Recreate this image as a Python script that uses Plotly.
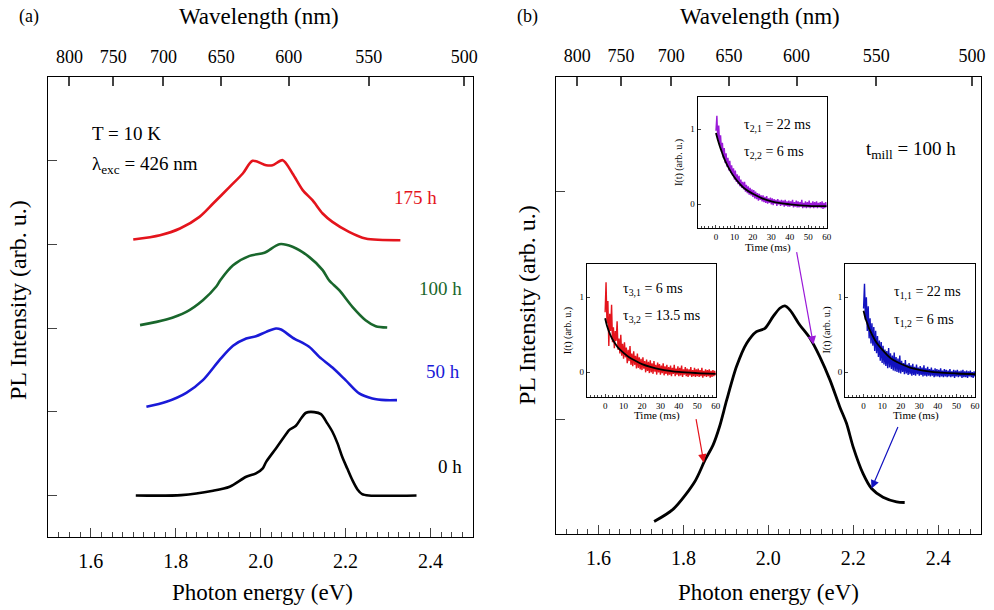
import numpy as np
import plotly.graph_objects as go

W, H = 994, 610
FONT = "Liberation Serif"

# ---------------- Panel (a): PL spectra vs milling time ----------------
E_0h = [1.706, 1.813, 1.888, 1.927, 1.966, 1.989, 2.005, 2.013, 2.036, 2.060, 2.067, 2.083,
        2.095, 2.107, 2.126, 2.142, 2.157, 2.169, 2.181, 2.192, 2.204, 2.216, 2.228, 2.239,
        2.255, 2.367]
I_0h = [0.0, 0.004, 0.056, 0.104, 0.223, 0.263, 0.323, 0.402, 0.562, 0.733, 0.781, 0.833,
        0.920, 0.988, 0.996, 0.972, 0.861, 0.761, 0.622, 0.462, 0.321, 0.183, 0.072, 0.016,
        0.0, 0.0]

E_50h = [1.731, 1.778, 1.825, 1.864, 1.903, 1.935, 1.966, 1.989, 2.013, 2.036, 2.048, 2.075,
         2.114, 2.138, 2.169, 2.200, 2.232, 2.263, 2.294, 2.321]
I_50h = [1.059, 1.119, 1.226, 1.378, 1.617, 1.788, 1.875, 1.903, 1.955, 1.995, 1.983, 1.887,
         1.776, 1.656, 1.529, 1.378, 1.219, 1.159, 1.139, 1.139]

E_100h = [1.716, 1.778, 1.825, 1.864, 1.895, 1.905, 1.935, 1.974, 2.009, 2.044, 2.075, 2.114,
          2.146, 2.161, 2.185, 2.216, 2.247, 2.271, 2.298]
I_100h = [2.035, 2.102, 2.194, 2.333, 2.493, 2.572, 2.751, 2.863, 2.899, 3.002, 2.971, 2.851,
          2.692, 2.572, 2.453, 2.254, 2.094, 2.023, 2.007]

E_175h = [1.700, 1.763, 1.810, 1.856, 1.888, 1.927, 1.958, 1.981, 2.013, 2.028, 2.052, 2.075,
          2.099, 2.122, 2.146, 2.169, 2.208, 2.247, 2.329]
I_175h = [3.058, 3.110, 3.190, 3.329, 3.488, 3.687, 3.847, 3.998, 3.946, 3.946, 4.006, 3.847,
          3.648, 3.528, 3.369, 3.269, 3.150, 3.070, 3.050]

# ---------------- Panel (b): PL spectrum, 100 h ----------------
E_b = [1.731, 1.776, 1.827, 1.851, 1.870, 1.885, 1.902, 1.925, 1.949, 1.972, 1.992, 2.011,
       2.027, 2.039, 2.051, 2.074, 2.098, 2.121, 2.145, 2.168, 2.184, 2.200, 2.223, 2.243,
       2.270, 2.302, 2.321]
I_b = [-0.444, -0.390, -0.269, -0.175, -0.109, -0.030, 0.087, 0.233, 0.335, 0.386, 0.400, 0.451,
       0.488, 0.498, 0.480, 0.415, 0.357, 0.277, 0.175, 0.058, -0.015, -0.120, -0.235, -0.300,
       -0.338, -0.358, -0.361]

# arrow targets on the spectrum (eV): red inset, purple inset, blue inset
arrow_E = [1.848, 2.106, 2.243]

wl_ticks = [800, 750, 700, 650, 600, 550, 500]
time_ticks = [0, 10, 20, 30, 40, 50, 60]

# ---------------- Insets: decay curves, sampled every 0.5 ms ----------------
t_step = 0.5
decay_red = [0.80, 1.20, 0.65, 0.95, 0.35, 0.78, 0.55, 0.90, 0.40, 0.60,
             0.32, 0.55, 0.42, 0.68, 0.30, 0.45, 0.25, 0.50, 0.22, 0.38,
             0.18, 0.40, 0.20, 0.33, 0.12, 0.30, 0.15, 0.35, 0.10, 0.25,
             0.08, 0.28, 0.10, 0.22, 0.05, 0.25, 0.06, 0.20, 0.04, 0.18,
             0.03, 0.20, 0.05, 0.15, 0.00, 0.17, 0.02, 0.14, -0.01, 0.16,
             0.00, 0.12, -0.02, 0.15, 0.01, 0.10, -0.03, 0.13, 0.00, 0.11,
             -0.03, 0.09, -0.01, 0.12, -0.04, 0.08, -0.02, 0.10, -0.04, 0.07,
             -0.03, 0.09, -0.05, 0.06, -0.02, 0.10, -0.05, 0.05, -0.03, 0.08,
             -0.05, 0.06, -0.04, 0.09, -0.06, 0.04, -0.03, 0.07, -0.05, 0.05,
             -0.06, 0.04, -0.04, 0.07, -0.06, 0.03, -0.05, 0.06, -0.06, 0.04,
             -0.05, 0.05, -0.06, 0.03, -0.05, 0.06, -0.07, 0.02, -0.05, 0.04,
             -0.06, 0.03, -0.05, 0.04, -0.07, 0.02, -0.06, 0.03, -0.05, 0.02,
             -0.04]
decay_purple = [0.98, 1.18, 0.85, 1.05, 0.78, 0.92, 0.70, 0.82, 0.62, 0.75,
                0.55, 0.68, 0.50, 0.62, 0.45, 0.58, 0.42, 0.52, 0.38, 0.48,
                0.33, 0.45, 0.30, 0.40, 0.27, 0.38, 0.24, 0.33, 0.22, 0.30,
                0.20, 0.30, 0.17, 0.26, 0.15, 0.24, 0.13, 0.22, 0.12, 0.20,
                0.10, 0.19, 0.08, 0.17, 0.07, 0.15, 0.05, 0.14, 0.06, 0.12,
                0.04, 0.12, 0.03, 0.10, 0.02, 0.11, 0.01, 0.08, 0.02, 0.09,
                0.00, 0.08, -0.01, 0.07, 0.01, 0.06, -0.02, 0.07, 0.00, 0.05,
                -0.02, 0.06, -0.01, 0.05, -0.03, 0.06, -0.02, 0.04, -0.03, 0.05,
                -0.03, 0.04, -0.02, 0.06, -0.04, 0.03, -0.03, 0.05, -0.04, 0.04,
                -0.04, 0.03, -0.03, 0.06, -0.05, 0.02, -0.04, 0.04, -0.05, 0.03,
                -0.04, 0.05, -0.05, 0.02, -0.04, 0.04, -0.05, 0.03, -0.04, 0.04,
                -0.05, 0.02, -0.04, 0.03, -0.05, 0.04, -0.06, 0.02, -0.05, 0.03,
                -0.04]
decay_blue = [0.85, 1.18, 0.70, 1.00, 0.55, 0.88, 0.45, 0.72, 0.38, 0.65,
              0.35, 0.60, 0.28, 0.55, 0.25, 0.48, 0.20, 0.42, 0.15, 0.40,
              0.12, 0.35, 0.10, 0.30, 0.08, 0.28, 0.05, 0.32, 0.06, 0.25,
              0.04, 0.22, 0.02, 0.26, 0.01, 0.20, 0.00, 0.18, -0.01, 0.22,
              -0.02, 0.15, 0.00, 0.12, -0.03, 0.16, -0.02, 0.10, -0.04, 0.12,
              -0.03, 0.09, -0.05, 0.11, -0.04, 0.07, -0.05, 0.10, -0.03, 0.06,
              -0.05, 0.08, -0.04, 0.06, -0.06, 0.09, -0.05, 0.05, -0.06, 0.07,
              -0.05, 0.04, -0.06, 0.06, -0.05, 0.03, -0.07, 0.05, -0.06, 0.04,
              -0.06, 0.03, -0.07, 0.05, -0.06, 0.02, -0.07, 0.04, -0.06, 0.03,
              -0.07, 0.02, -0.06, 0.04, -0.07, 0.01, -0.06, 0.03, -0.08, 0.02,
              -0.06, 0.03, -0.07, 0.01, -0.06, 0.02, -0.08, 0.03, -0.07, 0.01,
              -0.07, 0.02, -0.08, 0.01, -0.06, 0.02, -0.07, 0.00, -0.08, 0.01,
              -0.06]

fit_t = [0, 1, 2, 3, 4, 5, 7, 10, 13, 16, 20, 25, 30, 35, 40, 50, 60]
fit_red = [0.72, 0.62, 0.55, 0.49, 0.44, 0.40, 0.33, 0.26, 0.20, 0.16, 0.11, 0.07, 0.04, 0.02, 0.005, -0.01, -0.02]
fit_purple = [0.95, 0.86, 0.78, 0.71, 0.64, 0.58, 0.48, 0.36, 0.27, 0.20, 0.14, 0.08, 0.04, 0.015, 0.0, -0.02, -0.025]
fit_blue = [0.82, 0.72, 0.65, 0.58, 0.53, 0.48, 0.39, 0.30, 0.22, 0.16, 0.11, 0.06, 0.03, 0.01, -0.005, -0.02, -0.03]

# ---------------- colours ----------------
C_RED = "#e4141c"
C_GREEN = "#19672c"
C_BLUE = "#1a1ad8"
C_PURPLE = "#9a1ad8"
C_BLUE_D = "#1212c0"


def px(x):
    return x / W


def py(y):
    return 1 - y / H


fig = go.Figure()

# panel a spectra
for E, I, c in [(E_0h, I_0h, "black"), (E_50h, I_50h, C_BLUE),
                (E_100h, I_100h, C_GREEN), (E_175h, I_175h, C_RED)]:
    fig.add_trace(go.Scatter(x=E, y=I, mode="lines", xaxis="x", yaxis="y",
                             line=dict(color=c, width=2.6, shape="spline", smoothing=0.8),
                             hoverinfo="skip", showlegend=False))
# dummy traces for top axes
fig.add_trace(go.Scatter(x=[None], y=[None], xaxis="x2", yaxis="y", showlegend=False))
fig.add_trace(go.Scatter(x=[None], y=[None], xaxis="x4", yaxis="y2", showlegend=False))

# panel b spectrum
fig.add_trace(go.Scatter(x=E_b, y=I_b, mode="lines", xaxis="x3", yaxis="y2",
                         line=dict(color="black", width=2.8, shape="spline", smoothing=0.8),
                         hoverinfo="skip", showlegend=False))

# insets
insets = [("x5", "y3", decay_red, fit_red, C_RED),
          ("x6", "y4", decay_purple, fit_purple, C_PURPLE),
          ("x7", "y5", decay_blue, fit_blue, C_BLUE_D)]
for xa, ya, data, fit, c in insets:
    t = np.arange(len(data)) * t_step
    fig.add_trace(go.Scatter(x=t, y=data, mode="lines", xaxis=xa, yaxis=ya,
                             line=dict(color=c, width=1.4), hoverinfo="skip", showlegend=False))
    fig.add_trace(go.Scatter(x=fit_t, y=fit, mode="lines", xaxis=xa, yaxis=ya,
                             line=dict(color="black", width=1.8, shape="spline"),
                             hoverinfo="skip", showlegend=False))

frame = dict(showline=True, linecolor="black", linewidth=1.3, mirror=True,
             showgrid=False, zeroline=False, automargin=False)
tickf = dict(family=FONT, size=20, color="black")
topf = dict(family=FONT, size=18, color="black")
wl_vals = [1239.84 / w for w in wl_ticks]
wl_text = [str(w) for w in wl_ticks]


def bottom_axis(dom, anchor):
    return dict(frame, domain=dom, anchor=anchor, range=[1.5, 2.5], tick0=1.6, dtick=0.2,
                tickformat=".1f", ticks="inside", ticklen=9, tickwidth=1.2, tickfont=tickf,
                ticklabelstandoff=6,
                minor=dict(ticks="inside", ticklen=5, tickwidth=1, dtick=0.025, tick0=1.5))


def top_axis(over, anchor):
    return dict(frame, overlaying=over, anchor=anchor, side="top", range=[1.5, 2.5],
                tickmode="array", tickvals=wl_vals, ticktext=wl_text, ticklabelstandoff=6,
                ticks="inside", ticklen=9, tickwidth=1.5, tickfont=topf)


def inset_x(dom, anchor):
    return dict(frame, linewidth=1, domain=dom, anchor=anchor, range=[-10, 60],
                tickmode="array", tickvals=time_ticks,
                ticks="inside", ticklen=3, tickwidth=1, tickfont=dict(family=FONT, size=9, color="black"),
                minor=dict(ticks="inside", ticklen=2, dtick=2, tick0=0))


def inset_y(dom, anchor, rng):
    return dict(frame, linewidth=1, domain=dom, anchor=anchor, range=rng, tickvals=[0, 1],
                ticks="inside", ticklen=3, tickwidth=1, tickfont=dict(family=FONT, size=9, color="black"))


fig.update_layout(
    template="none",
    width=W, height=H, autosize=False,
    margin=dict(l=0, r=0, t=0, b=0, pad=0),
    paper_bgcolor="white", plot_bgcolor="rgba(0,0,0,0)",
    xaxis=bottom_axis([px(48.3), px(473)], "y"),
    xaxis2=top_axis("x", "y"),
    yaxis=dict(frame, domain=[py(537.3), py(77)], anchor="x", range=[-0.5, 5.0],
               tickvals=[0, 1, 2, 3, 4], showticklabels=False, ticks="inside", ticklen=9, tickwidth=1.2),
    xaxis3=bottom_axis([px(556), px(980.7)], "y2"),
    xaxis4=top_axis("x3", "y2"),
    yaxis2=dict(frame, domain=[py(534.3), py(76.7)], anchor="x3", range=[-0.5, 1.5],
                tickvals=[0, 1], showticklabels=False, ticks="inside", ticklen=9, tickwidth=1.2),
    xaxis5=inset_x([px(586.7), px(715.7)], "y3"),
    yaxis3=inset_y([py(396.7), py(264.3)], "x5", [-0.325, 1.44]),
    xaxis6=inset_x([px(697.5), px(826.7)], "y4"),
    yaxis4=inset_y([py(228.3), py(96.7)], "x6", [-0.32, 1.435]),
    xaxis7=inset_x([px(845), px(975)], "y5"),
    yaxis5=inset_y([py(396.7), py(264.3)], "x7", [-0.33, 1.44]),
)

ann = []


def txt(x, y, s, size, color="black", xanchor="center", yanchor="middle", angle=0):
    ann.append(dict(x=px(x), y=py(y), xref="paper", yref="paper", text=s, showarrow=False,
                    font=dict(family=FONT, size=size, color=color), xanchor=xanchor,
                    yanchor=yanchor, textangle=angle))


txt(29, 16, "(a)", 18)
txt(527, 16, "(b)", 18)
txt(259, 17, "Wavelength (nm)", 23)
txt(760, 17, "Wavelength (nm)", 23)
txt(262, 592, "Photon energy (eV)", 23)
txt(768, 592, "Photon energy (eV)", 23)
txt(18, 300, "PL Intensity (arb. u.)", 24, angle=-90)
txt(527, 305, "PL Intensity (arb. u.)", 24, angle=-90)
txt(90, 134, "T = 10 K", 19, xanchor="left")
txt(90, 165, "λ<sub>exc</sub> = 426 nm", 19, xanchor="left")
txt(415, 198, "175 h", 19, C_RED)
txt(440, 288, "100 h", 19, C_GREEN)
txt(443, 371, "50 h", 19, C_BLUE)
txt(450, 466, "0 h", 19, "black")
txt(864, 150, "t<sub>mill</sub> = 100 h", 19, xanchor="left")

# inset texts
txt(742, 126, "τ<sub>2,1</sub> = 22 ms", 14, xanchor="left")
txt(742, 152, "τ<sub>2,2</sub> = 6 ms", 14, xanchor="left")
txt(621, 289, "τ<sub>3,1</sub> = 6 ms", 14, xanchor="left")
txt(621, 316, "τ<sub>3,2</sub> = 13.5 ms", 14, xanchor="left")
txt(892, 292, "τ<sub>1,1</sub> = 22 ms", 14, xanchor="left")
txt(892, 320, "τ<sub>1,2</sub> = 6 ms", 14, xanchor="left")
for (xl, xr, yt, yb) in [(697.5, 826.7, 96.7, 228.3), (586.7, 715.7, 264.3, 396.7), (845, 975, 264.3, 396.7)]:
    txt((xl + xr) / 2 + 6, yb + 19, "Time (ms)", 11)
    txt(xl - 19, (yt + yb) / 2, "I(t) (arb. u.)", 10, angle=-90)

# arrows from insets to spectrum
arrow_cols = [C_RED, C_PURPLE, C_BLUE_D]
arrow_off = [(-8, -45), (-17, -94), (27, -63)]
for E0, c, (dx, dy) in zip(arrow_E, arrow_cols, arrow_off):
    ann.append(dict(x=E0, y=float(np.interp(E0, E_b, I_b)), xref="x3", yref="y2",
                    ax=dx, ay=dy, axref="pixel", ayref="pixel", text="", showarrow=True,
                    arrowhead=2, arrowsize=1.4, arrowwidth=1.2, arrowcolor=c, standoff=0))

fig.update_layout(annotations=ann)
fig.write_html("out.html", config={"displayModeBar": False},
               post_script="document.body.style.margin='0';document.body.style.padding='0';")
